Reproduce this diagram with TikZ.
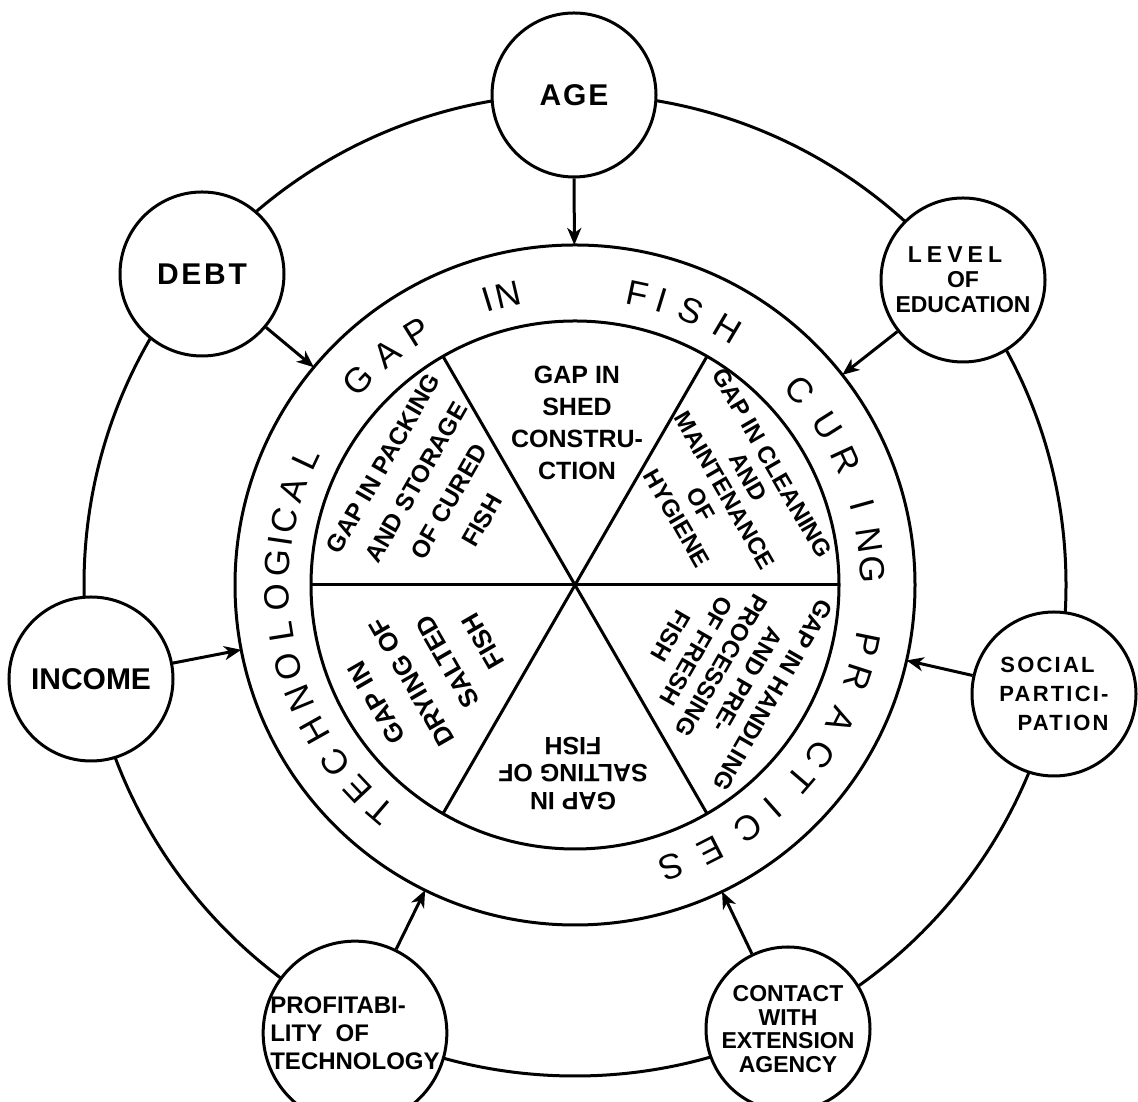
\documentclass[tikz,border=0pt]{standalone}
\usepackage{fontspec}
\setmainfont{Liberation Sans}
\usetikzlibrary{arrows.meta,calc}
\begin{document}
\begin{tikzpicture}[x=1pt,y=1pt,line width=3pt,
  sat/.style={circle,draw,fill=white,minimum size=164pt,inner sep=0pt,align=center},
  arr/.style={-{Stealth[length=17pt,width=14pt,inset=5pt]},line width=3pt},
  sect/.style={align=center,inner sep=0pt},
  ringl/.style={inner sep=0pt,font=\fontsize{35}{35}\selectfont}]
\useasboundingbox (0,0) rectangle (1138,1102);
\clip (0,0) rectangle (1138,1102);
\fill[white] (0,0) rectangle (1138,1102);
\coordinate (C) at (575,517);
% circles
\draw (C) circle (491);
\draw (C) circle (340);
\draw (C) circle (264);
% spokes
\draw ($(C)+(0:264)$) -- ($(C)+(180:264)$);
\draw ($(C)+(60:264)$) -- ($(C)+(240:264)$);
\draw ($(C)+(120:264)$) -- ($(C)+(300:264)$);
% satellites
\node[sat,font=\bfseries\fontsize{30}{32}\selectfont\addfontfeature{LetterSpace=6}] (age) at (574,1007) {AGE};
\node[sat,font=\bfseries\fontsize{30}{32}\selectfont\addfontfeature{LetterSpace=9}] (debt) at (202,828) {DEBT};
\node[sat,font=\bfseries\fontsize{23}{25}\selectfont] (edu) at (963,822) {{\addfontfeature{LetterSpace=22}LEVEL}\kern16pt\\OF\\EDUCATION};
\node[sat,font=\bfseries\fontsize{30}{32}\selectfont] (income) at (91,423) {INCOME};
\node[sat,align=right,font=\bfseries\fontsize{22}{29}\selectfont\addfontfeature{LetterSpace=10}] (social) at (1054,408) {SOCIAL\kern14pt\\PARTICI-\\PATION};
\node[sat,minimum size=178pt,align=left,font=\bfseries\fontsize{24}{28}\selectfont] (profit) at (355,69) {PROFITABI-\\LITY\ \ OF\\TECHNOLOGY};
\node[sat,font=\bfseries\fontsize{23}{23.5}\selectfont] (contact) at (788,73) {CONTACT\\WITH\\EXTENSION\\AGENCY};
% arrows
\foreach \n in {age,debt,edu,income,social,profit,contact}
  \draw[arr] (\n) -- ($(C)!340pt!(\n)$);
% sector texts
\node[sect,font=\bfseries\fontsize{25}{32}\selectfont] (s90) at (577,679) {GAP IN\\SHED\\CONSTRU-\\CTION};
\node[sect,rotate=-60,font=\bfseries\fontsize{24}{27.5}\selectfont] (s30) at (724.5,611.5) {GAP IN CLEANING\\AND\\MAINTENANCE\\OF\\HYGIENE};
\node[sect,rotate=-120,font=\bfseries\fontsize{24}{29.5}\selectfont] (s330) at (721.8,436.5) {GAP IN HANDLING\\AND PRE-\\PROCESSING\\OF FRESH\\FISH};
\node[sect,rotate=180,font=\bfseries\fontsize{25}{27.5}\selectfont] (s270) at (573,328.5) {GAP IN\\SALTING OF\\FISH};
\node[sect,rotate=120,font=\bfseries\fontsize{26}{41}\selectfont] (s210) at (429.8,430) {GAP IN\\DRYING OF\\SALTED\\FISH};
\node[sect,rotate=60,font=\bfseries\fontsize{24.5}{38}\selectfont] (s150) at (432.5,610) {GAP IN PACKING\\AND STORAGE\\OF CURED\\FISH};
% ring lettering
\foreach \a/\l [count=\i] in {229.3/T,223.3/E,216.6/C,209.3/H,202.4/N,196/O,189.1/L,182.4/O,175.7/G,171.5/I,167.5/C,161.3/A,154.8/L,
  136.6/G,129/A,122/P,
  107/I,103/N,
  78/F,73/I,67/S,59.3/H,
  40.9/C,32.3/U,24.8/R,15.5/I,8.7/N,2.9/G,
  -11.5/P,-18/R,-27/A,-34.7/C,-40.7/T,-48.4/I,-54.5/C,-63/E,-71.2/S}
  \node[ringl,rotate=\a-90] (r\i) at ($(C)+(\a:298)$) {\l};
\end{tikzpicture}
\end{document}
